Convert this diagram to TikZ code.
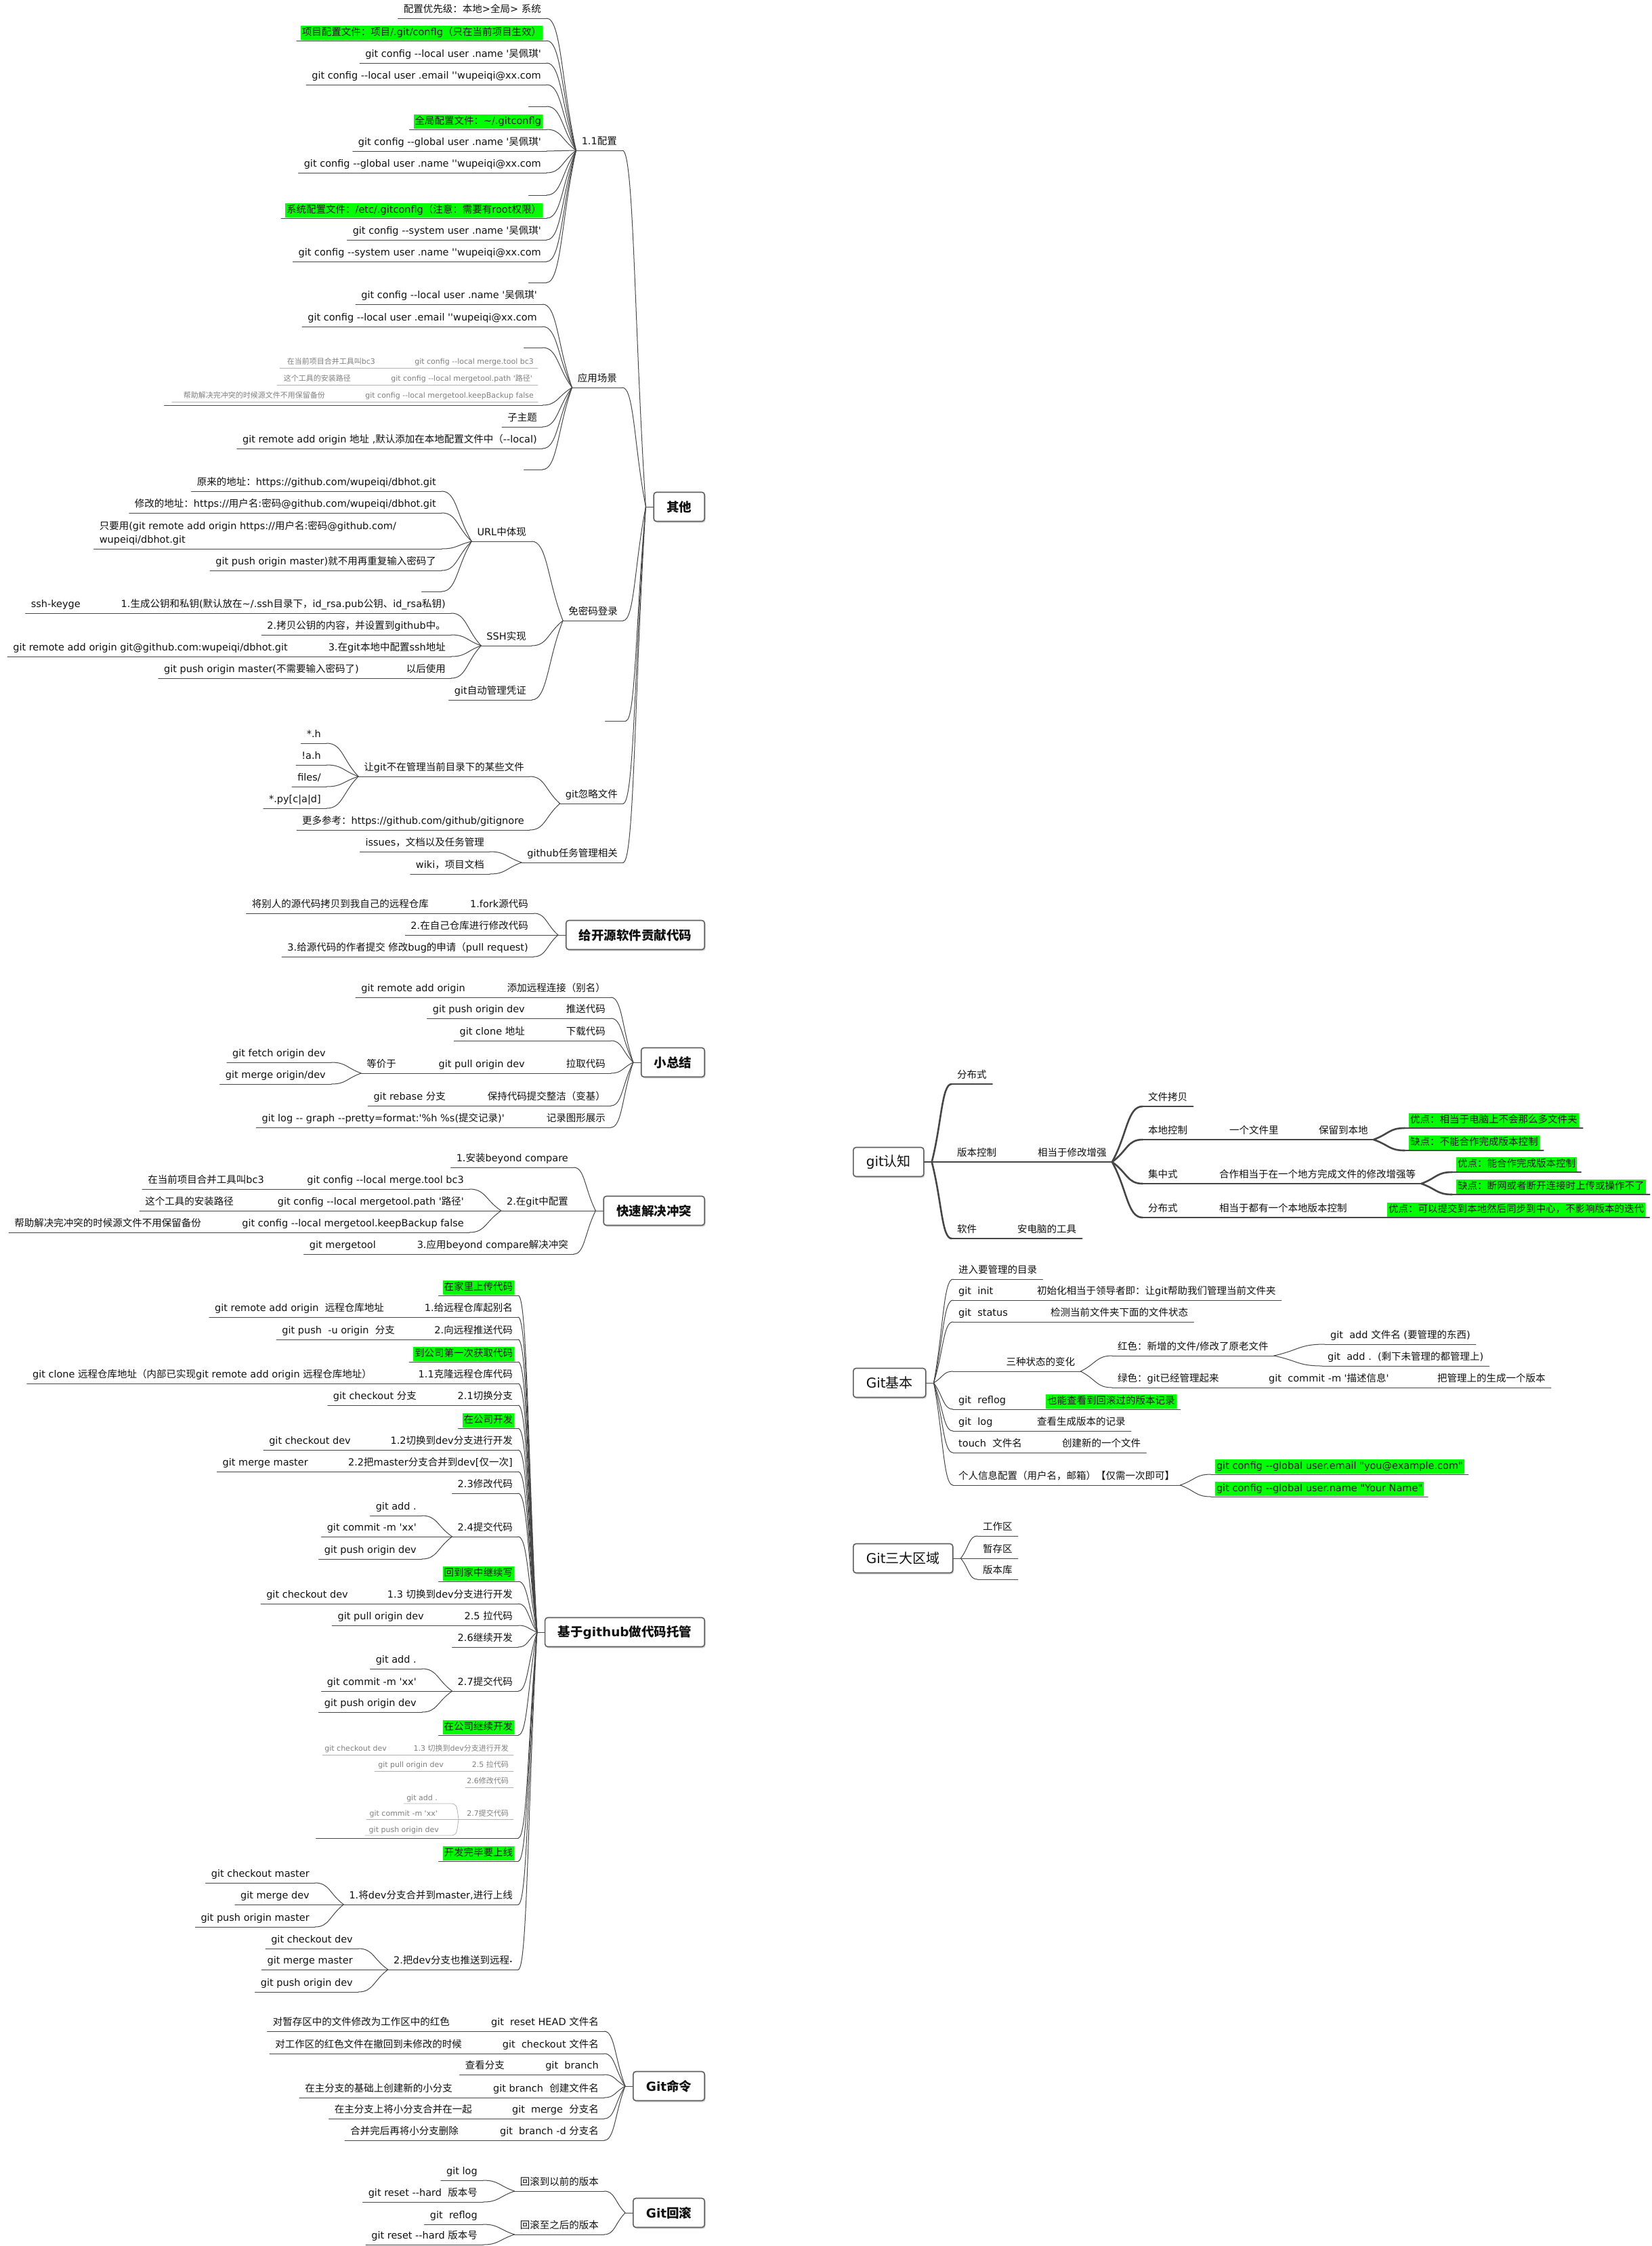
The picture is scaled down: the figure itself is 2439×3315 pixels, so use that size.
\documentclass[tikz,border=0pt]{standalone}
\usepackage{fontspec}
\setmainfont{DejaVu Sans}[Ligatures=TeXOff]
\newfontfamily\cjkfont{Noto Sans CJK SC}[Ligatures=TeXOff]
% chinese runs are set in the CJK face, the rest stays in DejaVu
\newXeTeXintercharclass\cjkclass
\newcount\cjkcount
\newcommand\setcharclass[3]{\cjkcount=#1\relax
  \loop\XeTeXcharclass\cjkcount=#3\relax
  \ifnum\cjkcount<#2\relax\advance\cjkcount by 1\repeat}
\setcharclass{"21}{"7E}{0}
\setcharclass{"3000}{"303F}{\cjkclass}
\setcharclass{"3400}{"4DBF}{\cjkclass}
\setcharclass{"4E00}{"9FFF}{\cjkclass}
\setcharclass{"FF00}{"FFEF}{\cjkclass}
\XeTeXinterchartoks 0 \cjkclass = {\cjkfont}
\XeTeXinterchartoks 4095 \cjkclass = {\cjkfont}
\XeTeXinterchartoks \cjkclass 0 = {\rmfamily}
\XeTeXinterchartoks \cjkclass 4095 = {\rmfamily}
\XeTeXinterchartokenstate=1
\usepackage{xcolor}
\usetikzlibrary{calc,shadows}
\definecolor{lk}{HTML}{464646}
\definecolor{tx}{HTML}{111111}
\definecolor{hlg}{HTML}{00FF00}
\definecolor{bx}{HTML}{5E5E5E}
\tikzset{
  every picture/.style={line join=round, line cap=round},
  link/.style={draw=lk, line width=1pt},
  bold link/.style={draw=lk, line width=2.6pt},
  ul/.style={link},
  leaf/.style={inner xsep=8pt, inner ysep=4.5pt, text height=11pt, text depth=3.5pt,
    text=tx, font=\fontsize{14.5}{17}\selectfont,
    append after command={(\tikzlastnode.south west) edge[ul] (\tikzlastnode.south east)}},
  lleaf/.style={leaf, anchor=south east},
  rleaf/.style={leaf, anchor=south west},
  hl/.style={fill=hlg, inner xsep=2pt, outer xsep=6pt, inner ysep=3pt, outer ysep=1.5pt},
  blank/.style={minimum width=#1},
  topic/.style={draw=bx, line width=1.6pt, rounded corners=4pt, fill=white,
    inner xsep=19pt, minimum height=43pt, text=tx,
    font=\fontsize{18.5}{22}\selectfont\bfseries,
    drop shadow={shadow xshift=1.5pt, shadow yshift=-2pt, fill=black!35}},
  rtopic/.style={topic, font=\fontsize{20}{24}\selectfont},
  branch/.style={to path={.. controls ($(\tikztostart)!0.5!(\tikztotarget)$)
    and ($(\tikztostart|-\tikztotarget)!0.5!(\tikztotarget)$) .. (\tikztotarget)}},
  tiny/.style={font=\fontsize{11}{13}\selectfont, text=black!50, inner sep=0pt, anchor=base east},
  faint/.style={draw=black!30, line width=0.8pt},
}

\begin{document}
\begin{tikzpicture}[x=1pt, y=-1pt]
\fill[white] (0,0) rectangle (2439,3315);
\useasboundingbox (0,0) rectangle (2439,3315);

% ================= 其他
\node[topic, anchor=east] (qt) at (1041,748) {其他};
\coordinate (qt-j) at ([xshift=-11pt]qt.west);
\node[lleaf] (cfg) at (919,222) {1.1配置};
\node[lleaf] (scene) at (919,572) {应用场景};
\node[lleaf] (nopw) at (920,916) {免密码登录};
\node[lleaf, blank=30] (qt-e) at (924,1064) {};
\node[lleaf] (ign) at (920,1186) {git忽略文件};
\node[lleaf] (task) at (920,1273) {github任务管理相关};
% 1.1配置
\node[lleaf] (cfg1) at (807,27) {配置优先级：本地>全局> 系统};
\node[lleaf, hl] (cfg2) at (807,60) {项目配置文件：项目/.git/conflg（只在当前项目生效）};
\node[lleaf] (cfg3) at (807,93) {git config --local user .name '吴佩琪'};
\node[lleaf] (cfg4) at (807,125) {git config --local user .email ''wupeiqi@xx.com};
\node[lleaf, blank=26] (cfg5) at (807,157) {};
\node[lleaf, hl] (cfg6) at (807,191) {全局配置文件：\textasciitilde/.gitconflg};
\node[lleaf] (cfg7) at (807,223) {git config --global user .name '吴佩琪'};
\node[lleaf] (cfg8) at (807,255) {git config --global user .name ''wupeiqi@xx.com};
\node[lleaf, blank=26] (cfg9) at (807,288) {};
\node[lleaf, hl] (cfg10) at (807,322) {系统配置文件：/etc/.gitconflg（注意：需要有root权限）};
\node[lleaf] (cfg11) at (807,354) {git config --system user .name '吴佩琪'};
\node[lleaf] (cfg12) at (807,386) {git config --system user .name ''wupeiqi@xx.com};
\node[lleaf, blank=26] (cfg13) at (807,417) {};
% 应用场景
\node[lleaf] (sc1) at (801,449) {git config --local user .name '吴佩琪'};
\node[lleaf] (sc2) at (801,482) {git config --local user .email ''wupeiqi@xx.com};
\node[lleaf, blank=27] (sc3) at (801,513) {};
\node[lleaf, blank=558] (sc4) at (801,598) {};
\node[lleaf] (sc5) at (801,630) {子主题};
\node[lleaf] (sc6) at (801,662) {git remote add origin 地址 ,默认添加在本地配置文件中（--local)};
\node[lleaf, blank=27] (sc7) at (801,693) {};
% picture inside sc4
\node[tiny] (sm1) at (554,537) {在当前项目合并工具叫bc3};
\node[tiny] (sm2) at (788,537) {git config --local merge.tool bc3};
\node[tiny] (sm3) at (518,562) {这个工具的安装路径};
\node[tiny] (sm4) at (786,562) {git config --local mergetool.path '路径'};
\node[tiny] (sm5) at (480,587) {帮助解决完冲突的时候源文件不用保留备份};
\node[tiny] (sm6) at (788,587) {git config --local mergetool.keepBackup false};
\draw[faint] (413,543) -- (794,543);
\draw[faint] (409,568) -- (794,568);
\draw[faint] (254,593) -- (794,593);
% 免密码登录
\node[lleaf] (url) at (785,799) {URL中体现};
\node[lleaf] (ssh) at (785,953) {SSH实现};
\node[lleaf] (cred) at (785,1033) {git自动管理凭证};
\node[lleaf] (u1) at (652,725) {原来的地址：https://github.com/wupeiqi/dbhot.git};
\node[lleaf] (u2) at (652,757) {修改的地址：https://用户名:密码@github.com/wupeiqi/dbhot.git};
\node[lleaf] (u3) at (652,810) {\vbox{\baselineskip=20pt
  \hbox to 497pt{只要用(git remote add origin https://用户名:密码@github.com/\hfil}
  \hbox{wupeiqi/dbhot.git}}};
\node[lleaf] (u4) at (652,842) {git push origin master)就不用再重复输入密码了};
\node[lleaf, blank=29] (u5) at (652,873) {};
\node[lleaf] (s1) at (666,905) {1.生成公钥和私钥(默认放在\textasciitilde/.ssh目录下，id\_rsa.pub公钥、id\_rsa私钥)};
\node[lleaf] (s1a) at (127,905) {ssh-keyge};
\node[lleaf] (s2) at (666,937) {2.拷贝公钥的内容，并设置到github中。};
\node[lleaf] (s3) at (666,969) {3.在git本地中配置ssh地址};
\node[lleaf] (s3a) at (433,969) {git remote add origin git@github.com:wupeiqi/dbhot.git};
\node[lleaf] (s4) at (666,1001) {以后使用};
\node[lleaf] (s4a) at (538,1001) {git push origin master(不需要输入密码了)};
% git忽略文件
\node[lleaf] (ign1) at (782,1146) {让git不在管理当前目录下的某些文件};
\node[lleaf] (ign2) at (782,1225) {更多参考：https://github.com/github/gitignore};
\node[lleaf] (i1) at (482,1097) {*.h};
\node[lleaf] (i2) at (482,1129) {!a.h};
\node[lleaf] (i3) at (482,1161) {files/};
\node[lleaf] (i4) at (482,1193) {*.py[c|a|d]};
% github任务管理相关
\node[lleaf] (t1) at (723,1257) {issues，文档以及任务管理};
\node[lleaf] (t2) at (723,1290) {wiki，项目文档};

\draw[link] (qt.west) -- (qt-j);
\foreach \c in {cfg,scene,nopw,qt-e,ign,task} \draw[link] (qt-j) to[branch] (\c.south east);
\foreach \i in {1,...,13} \draw[link] (cfg.south west) to[branch] (cfg\i.south east);
\foreach \i in {1,...,7} \draw[link] (scene.south west) to[branch] (sc\i.south east);
\foreach \c in {url,ssh,cred} \draw[link] (nopw.south west) to[branch] (\c.south east);
\foreach \i in {1,...,5} \draw[link] (url.south west) to[branch] (u\i.south east);
\foreach \i in {1,...,4} \draw[link] (ssh.south west) to[branch] (s\i.south east);
\foreach \a/\b in {s1/s1a,s3/s3a,s4/s4a} \draw[link] (\a.south west) -- (\b.south east);
\foreach \c in {ign1,ign2} \draw[link] (ign.south west) to[branch] (\c.south east);
\foreach \i in {1,...,4} \draw[link] (ign1.south west) to[branch] (i\i.south east);
\foreach \c in {t1,t2} \draw[link] (task.south west) to[branch] (\c.south east);

% ================= 给开源软件贡献代码
\node[topic, anchor=east] (oss) at (1041,1380) {给开源软件贡献代码};
\coordinate (oss-j) at ([xshift=-11pt]oss.west);
\node[lleaf] (o1) at (788,1348) {1.fork源代码};
\node[lleaf] (o1a) at (641,1348) {将别人的源代码拷贝到我自己的远程仓库};
\node[lleaf] (o2) at (788,1380) {2.在自己仓库进行修改代码};
\node[lleaf] (o3) at (788,1412) {3.给源代码的作者提交 修改bug的申请（pull request)};
\draw[link] (oss.west) -- (oss-j);
\foreach \i in {1,2,3} \draw[link] (oss-j) to[branch] (o\i.south east);
\draw[link] (o1.south west) -- (o1a.south east);

% ================= 小总结
\node[topic, anchor=east] (sum) at (1041,1568) {小总结};
\coordinate (sum-j) at ([xshift=-11pt]sum.west);
\node[lleaf] (m1) at (902,1472) {添加远程连接（别名）};
\node[lleaf] (m1a) at (695,1472) {git remote add origin};
\node[lleaf] (m2) at (902,1503) {推送代码};
\node[lleaf] (m2a) at (783,1503) {git push origin dev};
\node[lleaf] (m3) at (902,1536) {下载代码};
\node[lleaf] (m3a) at (783,1536) {git clone 地址};
\node[lleaf] (m4) at (902,1584) {拉取代码};
\node[lleaf] (m4a) at (783,1584) {git pull origin dev};
\node[lleaf] (m4b) at (593,1584) {等价于};
\node[lleaf] (m4c) at (489,1568) {git fetch origin dev};
\node[lleaf] (m4d) at (489,1600) {git merge origin/dev};
\node[lleaf] (m5) at (902,1632) {保持代码提交整洁（变基）};
\node[lleaf] (m5a) at (666,1632) {git rebase 分支};
\node[lleaf] (m6) at (902,1664) {记录图形展示};
\node[lleaf] (m6a) at (753,1664) {git log -- graph --pretty=format:'\%h \%s(提交记录)'};
\draw[link] (sum.west) -- (sum-j);
\foreach \i in {1,...,6} \draw[link] (sum-j) to[branch] (m\i.south east);
\foreach \a/\b in {m1/m1a,m2/m2a,m3/m3a,m4/m4a,m4a/m4b,m5/m5a,m6/m6a} \draw[link] (\a.south west) -- (\b.south east);
\foreach \c in {m4c,m4d} \draw[link] (m4b.south west) to[branch] (\c.south east);

% ================= 快速解决冲突
\node[topic, anchor=east] (fix) at (1041,1787) {快速解决冲突};
\coordinate (fix-j) at ([xshift=-11pt]fix.west);
\node[lleaf] (f1) at (847,1723) {1.安装beyond compare};
\node[lleaf] (f2) at (847,1787) {2.在git中配置};
\node[lleaf] (f2a) at (693,1755) {git config --local merge.tool bc3};
\node[lleaf] (f2a1) at (398,1755) {在当前项目合并工具叫bc3};
\node[lleaf] (f2b) at (693,1787) {git config --local mergetool.path '路径'};
\node[lleaf] (f2b1) at (353,1787) {这个工具的安装路径};
\node[lleaf] (f2c) at (693,1819) {git config --local mergetool.keepBackup false};
\node[lleaf] (f2c1) at (305,1819) {帮助解决完冲突的时候源文件不用保留备份};
\node[lleaf] (f3) at (847,1851) {3.应用beyond compare解决冲突};
\node[lleaf] (f3a) at (563,1851) {git mergetool};
\draw[link] (fix.west) -- (fix-j);
\foreach \i in {1,2,3} \draw[link] (fix-j) to[branch] (f\i.south east);
\foreach \c in {f2a,f2b,f2c} \draw[link] (f2.south west) to[branch] (\c.south east);
\foreach \a/\b in {f2a/f2a1,f2b/f2b1,f2c/f2c1,f3/f3a} \draw[link] (\a.south west) -- (\b.south east);

% ================= 基于github做代码托管
\node[topic, anchor=east] (gh) at (1041,2409) {基于github做代码托管};
\coordinate (gh-j) at ([xshift=-11pt]gh.west);
\node[lleaf, hl] (g1) at (765,1912) {在家里上传代码};
\node[lleaf] (g2) at (765,1944) {1.给远程仓库起别名};
\node[lleaf] (g2a) at (575,1944) {git remote add origin\ \ 远程仓库地址};
\node[lleaf] (g3) at (765,1977) {2.向远程推送代码};
\node[lleaf] (g3a) at (591,1977) {git push\ \ -u origin\ \ 分支};
\node[lleaf, hl] (g4) at (765,2010) {到公司第一次获取代码};
\node[lleaf] (g5) at (765,2042) {1.1克隆远程仓库代码};
\node[lleaf] (g5a) at (557,2042) {git clone 远程仓库地址（内部已实现git remote add origin 远程仓库地址）};
\node[lleaf] (g6) at (765,2074) {2.1切换分支};
\node[lleaf] (g6a) at (623,2074) {git checkout 分支};
\node[lleaf, hl] (g7) at (765,2108) {在公司开发};
\node[lleaf] (g8) at (765,2140) {1.2切换到dev分支进行开发};
\node[lleaf] (g8a) at (526,2140) {git checkout dev};
\node[lleaf] (g9) at (765,2172) {2.2把master分支合并到dev[仅一次]};
\node[lleaf] (g9a) at (463,2172) {git merge master};
\node[lleaf] (g10) at (765,2204) {2.3修改代码};
\node[lleaf] (g11) at (765,2268) {2.4提交代码};
\node[lleaf] (g11a) at (623,2237) {git add .};
\node[lleaf] (g11b) at (623,2268) {git commit -m 'xx'};
\node[lleaf] (g11c) at (623,2301) {git push origin dev};
\node[lleaf, hl] (g12) at (765,2334) {回到家中继续写};
\node[lleaf] (g13) at (765,2367) {1.3 切换到dev分支进行开发};
\node[lleaf] (g13a) at (522,2367) {git checkout dev};
\node[lleaf] (g14) at (765,2399) {2.5 拉代码};
\node[lleaf] (g14a) at (634,2399) {git pull origin dev};
\node[lleaf] (g15) at (765,2431) {2.6继续开发};
\node[lleaf] (g16) at (765,2496) {2.7提交代码};
\node[lleaf] (g16a) at (623,2463) {git add .};
\node[lleaf] (g16b) at (623,2496) {git commit -m 'xx'};
\node[lleaf] (g16c) at (623,2527) {git push origin dev};
\node[lleaf, hl] (g17) at (765,2561) {在公司继续开发};
\node[lleaf, blank=298] (g18) at (765,2713) {};
\node[lleaf, hl] (g19) at (765,2747) {开发完毕要上线};
\node[lleaf] (g20) at (765,2811) {1.将dev分支合并到master,进行上线};
\node[lleaf] (g20a) at (465,2779) {git checkout master};
\node[lleaf] (g20b) at (465,2811) {git merge dev};
\node[lleaf] (g20c) at (465,2844) {git push origin master};
\node[lleaf] (g21) at (765,2907) {2.把dev分支也推送到远程{\fontsize{8}{8}\selectfont •}};
\node[lleaf] (g21a) at (529,2876) {git checkout dev};
\node[lleaf] (g21b) at (529,2907) {git merge master};
\node[lleaf] (g21c) at (529,2940) {git push origin dev};
% picture inside g18
\node[tiny] (gm1) at (571,2584) {git checkout dev};
\node[tiny] (gm2) at (751,2584) {1.3 切换到dev分支进行开发};
\node[tiny] (gm3) at (655,2608) {git pull origin dev};
\node[tiny] (gm4) at (751,2608) {2.5 拉代码};
\node[tiny] (gm5) at (751,2632) {2.6修改代码};
\node[tiny] (gm6) at (646,2657) {git add .};
\node[tiny] (gm7) at (646,2680) {git commit -m 'xx'};
\node[tiny] (gm8) at (751,2680) {2.7提交代码};
\node[tiny] (gm9) at (648,2704) {git push origin dev};
\draw[faint] (476,2590) -- (758,2590);
\draw[faint] (553,2614) -- (758,2614);
\draw[faint] (687,2638) -- (758,2638);
\draw[faint] (541,2685) -- (758,2685);
\draw[faint] (596,2662) -- (663,2662) .. controls (674,2662) .. (677,2685)
  .. controls (674,2709) .. (663,2709) -- (539,2709);
\draw[link] (gh.west) -- (gh-j);
\foreach \i in {1,...,21} \draw[link] (gh-j) to[branch] (g\i.south east);
\foreach \a/\b in {g2/g2a,g3/g3a,g5/g5a,g6/g6a,g8/g8a,g9/g9a,g13/g13a,g14/g14a} \draw[link] (\a.south west) -- (\b.south east);
\foreach \p in {g11,g16,g20,g21}
  \foreach \s in {a,b,c} \draw[link] (\p.south west) to[branch] (\p\s.south east);

% ================= Git命令
\node[topic, anchor=east] (cmd) at (1041,3079) {Git命令};
\coordinate (cmd-j) at ([xshift=-11pt]cmd.west);
\node[lleaf] (c1) at (892,2998) {git\ \ reset HEAD 文件名};
\node[lleaf] (c1a) at (672,2998) {对暂存区中的文件修改为工作区中的红色};
\node[lleaf] (c2) at (892,3031) {git\ \ checkout 文件名};
\node[lleaf] (c2a) at (690,3031) {对工作区的红色文件在撤回到未修改的时候};
\node[lleaf] (c3) at (892,3062) {git\ \ branch};
\node[lleaf] (c3a) at (753,3062) {查看分支};
\node[lleaf] (c4) at (892,3096) {git branch\ \ 创建文件名};
\node[lleaf] (c4a) at (676,3096) {在主分支的基础上创建新的小分支};
\node[lleaf] (c5) at (892,3127) {git\ \ merge\ \ 分支名};
\node[lleaf] (c5a) at (705,3127) {在主分支上将小分支合并在一起};
\node[lleaf] (c6) at (892,3159) {git\ \ branch -d 分支名};
\node[lleaf] (c6a) at (685,3159) {合并完后再将小分支删除};
\draw[link] (cmd.west) -- (cmd-j);
\foreach \i in {1,...,6} \draw[link] (cmd-j) to[branch] (c\i.south east);
\foreach \i in {1,...,6} \draw[link] (c\i.south west) -- (c\i a.south east);

% ================= Git回滚
\node[topic, anchor=east] (rb) at (1041,3266) {Git回滚};
\coordinate (rb-j) at ([xshift=-11pt]rb.west);
\node[lleaf] (r1) at (892,3234) {回滚到以前的版本};
\node[lleaf] (r1a) at (713,3218) {git log};
\node[lleaf] (r1b) at (713,3250) {git reset --hard\ \ 版本号};
\node[lleaf] (r2) at (892,3298) {回滚至之后的版本};
\node[lleaf] (r2a) at (713,3283) {git\ \ reflog};
\node[lleaf] (r2b) at (713,3313) {git reset --hard 版本号};
\draw[link] (rb.west) -- (rb-j);
\foreach \i in {1,2} \draw[link] (rb-j) to[branch] (r\i.south east);
\foreach \p in {r1,r2}
  \foreach \s in {a,b} \draw[link] (\p.south west) to[branch] (\p\s.south east);

% ================= git认知 (heavy lines)
\begin{scope}[ul/.style={bold link}]
\node[rtopic, anchor=west] (gk) at (1259,1715) {git认知};
\coordinate (gk-j) at ([xshift=11pt]gk.east);
\node[rleaf] (k1) at (1405,1600) {分布式};
\node[rleaf] (k2) at (1405,1715) {版本控制};
\node[rleaf] (k2a) at (1524,1715) {相当于修改增强};
\node[rleaf] (k3) at (1687,1633) {文件拷贝};
\node[rleaf] (k4) at (1687,1682) {本地控制};
\node[rleaf] (k4a) at (1807,1682) {一个文件里};
\node[rleaf] (k4b) at (1939,1682) {保留到本地};
\node[rleaf, hl] (k4c) at (2074,1665) {优点：相当于电脑上不会那么多文件夹};
\node[rleaf, hl] (k4d) at (2074,1698) {缺点：不能合作完成版本控制};
\node[rleaf] (k5) at (1687,1747) {集中式};
\node[rleaf] (k5a) at (1792,1747) {合作相当于在一个地方完成文件的修改增强等};
\node[rleaf, hl] (k5b) at (2144,1730) {优点：能合作完成版本控制};
\node[rleaf, hl] (k5c) at (2144,1763) {缺点：断网或者断开连接时上传或操作不了};
\node[rleaf] (k6) at (1687,1797) {分布式};
\node[rleaf] (k6a) at (1792,1797) {相当于都有一个本地版本控制};
\node[rleaf, hl] (k6b) at (2042,1797) {优点：可以提交到本地然后同步到中心，不影响版本的迭代};
\node[rleaf] (k7) at (1405,1828) {软件};
\node[rleaf] (k7a) at (1494,1828) {安电脑的工具};
\end{scope}
\draw[bold link] (gk.east) -- (gk-j);
\foreach \c in {k1,k2,k7} \draw[bold link] (gk-j) to[branch] (\c.south west);
\foreach \a/\b in {k2/k2a,k4/k4a,k4a/k4b,k5/k5a,k6/k6a,k6a/k6b,k7/k7a} \draw[bold link] (\a.south east) -- (\b.south west);
\foreach \c in {k3,k4,k5,k6} \draw[bold link] (k2a.south east) to[branch] (\c.south west);
\foreach \c in {k4c,k4d} \draw[bold link] (k4b.south east) to[branch] (\c.south west);
\foreach \c in {k5b,k5c} \draw[bold link] (k5a.south east) to[branch] (\c.south west);

% ================= Git基本
\node[rtopic, anchor=west] (gb) at (1259,2041) {Git基本};
\coordinate (gb-j) at ([xshift=11pt]gb.east);
\node[rleaf] (b1) at (1407,1888) {进入要管理的目录};
\node[rleaf] (b2) at (1407,1919) {git\ \ init};
\node[rleaf] (b2a) at (1523,1919) {初始化相当于领导者即：让git帮助我们管理当前文件夹};
\node[rleaf] (b3) at (1407,1951) {git\ \ status};
\node[rleaf] (b3a) at (1543,1951) {检测当前文件夹下面的文件状态};
\node[rleaf, text width=172pt, align=right] (b4) at (1407,2024) {三种状态的变化};
\node[rleaf] (b4a) at (1642,2001) {红色：新增的文件/修改了原老文件};
\node[rleaf] (b4a1) at (1956,1984) {git\ \ add 文件名 (要管理的东西)};
\node[rleaf] (b4a2) at (1952,2016) {git\ \ add .\ \ (剩下未管理的都管理上)};
\node[rleaf] (b4b) at (1642,2048) {绿色：git已经管理起来};
\node[rleaf] (b4b1) at (1865,2048) {git\ \ commit -m '描述信息'};
\node[rleaf] (b4b2) at (2114,2048) {把管理上的生成一个版本};
\node[rleaf] (b5) at (1407,2080) {git\ \ reflog};
\node[rleaf, hl] (b5a) at (1538,2080) {也能查看到回滚过的版本记录};
\node[rleaf] (b6) at (1407,2112) {git\ \ log};
\node[rleaf] (b6a) at (1523,2112) {查看生成版本的记录};
\node[rleaf] (b7) at (1407,2144) {touch\ \ 文件名};
\node[rleaf] (b7a) at (1560,2144) {创建新的一个文件};
\node[rleaf] (b8) at (1407,2192) {个人信息配置（用户名，邮箱）【仅需一次即可】};
\node[rleaf, hl] (b8a) at (1788,2176) {git config --global user.email "you@example.com"};
\node[rleaf, hl] (b8b) at (1788,2209) {git config --global user.name "Your Name"};
\draw[link] (gb.east) -- (gb-j);
\foreach \i in {1,...,8} \draw[link] (gb-j) to[branch] (b\i.south west);
\foreach \a/\b in {b2/b2a,b3/b3a,b4b/b4b1,b4b1/b4b2,b5/b5a,b6/b6a,b7/b7a} \draw[link] (\a.south east) -- (\b.south west);
\foreach \c in {b4a,b4b} \draw[link] (b4.south east) to[branch] (\c.south west);
\foreach \c in {b4a1,b4a2} \draw[link] (b4a.south east) to[branch] (\c.south west);
\foreach \c in {b8a,b8b} \draw[link] (b8.south east) to[branch] (\c.south west);

% ================= Git三大区域
\node[rtopic, anchor=west] (sd) at (1259,2300) {Git三大区域};
\coordinate (sd-j) at ([xshift=11pt]sd.east);
\node[rleaf] (d1) at (1443,2267) {工作区};
\node[rleaf] (d2) at (1443,2300) {暂存区};
\node[rleaf] (d3) at (1443,2331) {版本库};
\draw[link] (sd.east) -- (sd-j);
\foreach \i in {1,2,3} \draw[link] (sd-j) to[branch] (d\i.south west);
\end{tikzpicture}
\end{document}
